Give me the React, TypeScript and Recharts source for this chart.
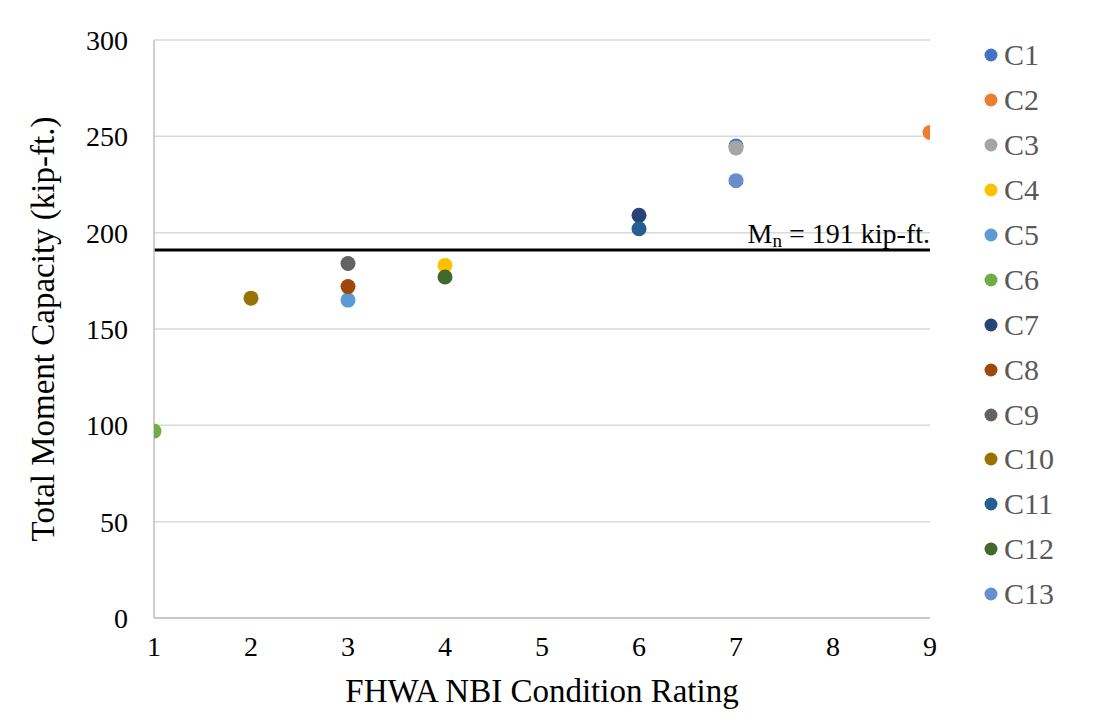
import React from 'react';
import { ScatterChart, Scatter, XAxis, YAxis, CartesianGrid, ReferenceLine, Legend } from 'recharts';

const names = ['C1', 'C2', 'C3', 'C4', 'C5', 'C6', 'C7', 'C8', 'C9', 'C10', 'C11', 'C12', 'C13'];
const ratings = [7, 9, 7, 4, 3, 1, 6, 3, 3, 2, 6, 4, 7];
const capacities = [245, 252, 244, 183, 165, 97, 209, 172, 184, 166, 202, 177, 227];
const colors = ['#4472C4', '#ED7D31', '#A5A5A5', '#FFC000', '#5B9BD5', '#70AD47', '#264478', '#9E480E', '#636363', '#997300', '#255E91', '#43682B', '#698ED0'];
const xTicks = [1, 2, 3, 4, 5, 6, 7, 8, 9];
const yTicks = [0, 50, 100, 150, 200, 250, 300];
const nominal = 191;

const font = '"Liberation Serif", "Times New Roman", serif';

const Dot = (props: any) => <circle cx={props.cx} cy={props.cy} r={7.5} fill={props.fill} />;

// legend keeps the series order (recharts sorts its payload by name)
const LegendBox = () => (
  <div style={{ fontFamily: font, fontSize: 30, color: '#595959' }}>
    {names.map((n, i) => (
      <div key={n} style={{ height: 44.9, display: 'flex', alignItems: 'center' }}>
        <svg width={14} height={14} style={{ marginRight: 6 }}>
          <circle cx={7} cy={7} r={6.5} fill={colors[i]} />
        </svg>
        {n}
      </div>
    ))}
  </div>
);

const RefLabel = (props: any) => {
  const vb = props.viewBox;
  return (
    <text x={vb.x + vb.width} y={vb.y - 7} textAnchor="end" fontFamily={font} fontSize={28} fill="#000">
      M<tspan fontSize={19} dy={4}>n</tspan>
      <tspan dy={-4}> = 191 kip-ft.</tspan>
    </text>
  );
};

export default function App() {
  return (
    <div style={{ position: 'absolute', left: 0, top: 0, background: '#fff' }}>
      <ScatterChart width={1101} height={724} margin={{ top: 40, right: 61, left: 74, bottom: 66 }}>
        <CartesianGrid horizontal vertical={false} stroke="#D9D9D9" strokeWidth={1.5} />
        <XAxis
          type="number"
          dataKey="x"
          domain={[1, 9]}
          ticks={xTicks}
          allowDataOverflow
          stroke="#BFBFBF"
          strokeWidth={1.5}
          tickLine={false}
          tickMargin={12}
          height={40}
          tick={{ fontFamily: font, fontSize: 28, fill: '#000' }}
          label={{ value: 'FHWA NBI Condition Rating', position: 'bottom', offset: 21, style: { fontFamily: font, fontSize: 33, fill: '#000' } }}
        />
        <YAxis
          type="number"
          dataKey="y"
          domain={[0, 300]}
          ticks={yTicks}
          stroke="#BFBFBF"
          strokeWidth={1.5}
          tickLine={false}
          tickMargin={20}
          width={80}
          tick={{ fontFamily: font, fontSize: 28, fill: '#000' }}
          label={{ value: 'Total Moment Capacity (kip-ft.)', angle: -90, position: 'insideLeft', offset: -32, style: { fontFamily: font, fontSize: 33, fill: '#000', textAnchor: 'middle' } }}
        />
        <ReferenceLine y={nominal} stroke="#000" strokeWidth={3} label={<RefLabel />} />
        {names.map((n, i) => (
          <Scatter
            key={n}
            name={n}
            data={[{ x: ratings[i], y: capacities[i] }]}
            fill={colors[i]}
            shape={<Dot />}
            isAnimationActive={false}
          />
        ))}
        <Legend
          layout="vertical"
          verticalAlign="top"
          align="right"
          content={<LegendBox />}
          wrapperStyle={{ left: 984, top: 33, width: 110 }}
        />
      </ScatterChart>
    </div>
  );
}
